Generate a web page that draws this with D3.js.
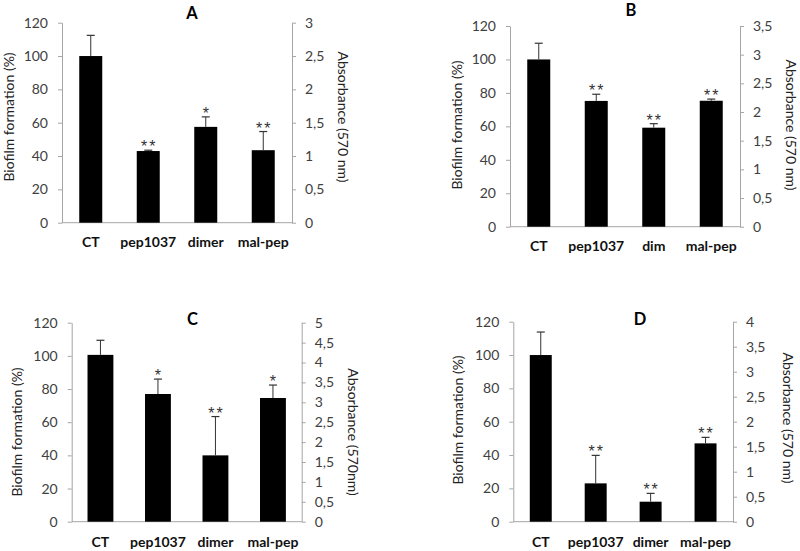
<!DOCTYPE html>
<html>
<head>
<meta charset="utf-8">
<script src="https://cdn.jsdelivr.net/npm/d3@7"></script>
<style>
  body { margin: 0; background: #fff; }
  svg { display: block; }
  text { font-family: Lato, "Liberation Sans", Arial, sans-serif; }
</style>
</head>
<body>
<svg id="chart" width="800" height="551"></svg>
<script>
// ---------- DATA ----------
const panelTitles = ["A", "B", "C", "D"];

const categoriesA = ["CT", "pep1037", "dimer", "mal-pep"];
const valuesA = [100, 43, 57.5, 43.5];
const errorsA = [12.4, 0.5, 6, 11.2];
const starsA = ["", "**", "*", "**"];
const rightMaxA = 3;

const categoriesB = ["CT", "pep1037", "dim", "mal-pep"];
const valuesB = [100, 75.2, 59.2, 75.3];
const errorsB = [9.7, 4, 2.4, 1];
const starsB = ["", "**", "**", "**"];
const rightMaxB = 3.5;

const categoriesC = ["CT", "pep1037", "dimer", "mal-pep"];
const valuesC = [100.6, 77, 40, 74.6];
const errorsC = [8.8, 9, 23.4, 7.8];
const starsC = ["", "*", "**", "*"];
const rightMaxC = 5;

const categoriesD = ["CT", "pep1037", "dimer", "mal-pep"];
const valuesD = [100, 23, 12, 47];
const errorsD = [13.8, 16.8, 5, 3.6];
const starsD = ["", "**", "**", "**"];
const rightMaxD = 4;

const leftTicks = [0, 20, 40, 60, 80, 100, 120];
const leftTitle = "Biofilm formation (%)";
const rightTitles = ["Absorbance (570 nm)", "Absorbance (570 nm)", "Absorbance (570nm)", "Absorbance (570 nm)"];

// ---------- LAYOUT ----------
const layouts = [
  { left: 62,  right: 292,   top: 22.7, bottom: 222.7, tx: 192, ty: 18.5, xl: 247,   lt: [9.5, 117],  rt: [343, 117],  bw: 0.4 },
  { left: 510, right: 740,   top: 26,   bottom: 226.7, tx: 631, ty: 16,   xl: 251,   lt: [457, 125],  rt: [791, 125],  bw: 0.4 },
  { left: 71.7,right: 301.7, top: 322.7,bottom: 521.7, tx: 192.5,ty: 325, xl: 546.5, lt: [16.7, 432], rt: [352.5, 432],bw: 0.45 },
  { left: 513.3,right: 733,  top: 321.7,bottom: 521.7, tx: 640, ty: 325,  xl: 546.5, lt: [458.3, 420],rt: [788, 418], bw: 0.4 }
];

const panels = [
  { cats: categoriesA, vals: valuesA, errs: errorsA, stars: starsA, rmax: rightMaxA },
  { cats: categoriesB, vals: valuesB, errs: errorsB, stars: starsB, rmax: rightMaxB },
  { cats: categoriesC, vals: valuesC, errs: errorsC, stars: starsC, rmax: rightMaxC },
  { cats: categoriesD, vals: valuesD, errs: errorsD, stars: starsD, rmax: rightMaxD }
];

const svg = d3.select("#chart");
const axisColor = "#a6a6a6";
const labelColor = "#404040";
const fontFam = 'Lato, "Liberation Sans", Arial, sans-serif';
const commaFmt = d => String(d).replace(".", ",");

panels.forEach((p, i) => {
  const L = layouts[i];
  const g = svg.append("g");

  const x = d3.scaleBand().domain(p.cats).range([L.left, L.right]).paddingInner(1 - L.bw).paddingOuter((1 - L.bw) / 2);
  const y = d3.scaleLinear().domain([0, 120]).range([L.bottom, L.top]);
  const yr = d3.scaleLinear().domain([0, p.rmax]).range([L.bottom, L.top]);
  const rTicks = d3.range(0, p.rmax + 0.001, 0.5).map(v => Math.round(v * 10) / 10);

  // left axis
  const la = g.append("g").attr("transform", `translate(${L.left},0)`)
    .call(d3.axisLeft(y).tickValues(leftTicks).tickSizeInner(4).tickSizeOuter(0).tickPadding(10));
  // right axis
  const ra = g.append("g").attr("transform", `translate(${L.right},0)`)
    .call(d3.axisRight(yr).tickValues(rTicks).tickFormat(commaFmt).tickSizeInner(4).tickSizeOuter(0).tickPadding(9));
  [la, ra].forEach(a => {
    a.selectAll("path, line").attr("stroke", axisColor);
    a.selectAll("text").attr("fill", labelColor).style("font-size", "14px").style("font-family", fontFam);
  });

  // baseline
  g.append("line").attr("x1", L.left).attr("x2", L.right)
    .attr("y1", y(0)).attr("y2", y(0)).attr("stroke", axisColor);

  // bars
  g.selectAll(".bar").data(p.vals).enter().append("rect")
    .attr("x", (d, j) => x(p.cats[j]))
    .attr("width", x.bandwidth())
    .attr("y", d => y(d))
    .attr("height", d => y(0) - y(d))
    .attr("fill", "#000");

  // error bars (upper only)
  p.vals.forEach((v, j) => {
    const cx = x(p.cats[j]) + x.bandwidth() / 2;
    const yTop = y(v + p.errs[j]);
    g.append("line").attr("x1", cx).attr("x2", cx).attr("y1", y(v)).attr("y2", yTop)
      .attr("stroke", "#333").attr("stroke-width", 1);
    g.append("line").attr("x1", cx - 4).attr("x2", cx + 4).attr("y1", yTop).attr("y2", yTop)
      .attr("stroke", "#333").attr("stroke-width", 1.2);
    if (p.stars[j]) {
      g.append("text").attr("x", cx + 1).attr("y", yTop + 2)
        .attr("text-anchor", "middle").attr("fill", "#333")
        .style("font-family", '"Liberation Sans", Arial, sans-serif')
        .style("font-size", "16px").style("letter-spacing", "2px")
        .text(p.stars[j]);
    }
  });

  // category labels
  g.selectAll(".cat").data(p.cats).enter().append("text")
    .attr("x", d => x(d) + x.bandwidth() / 2)
    .attr("y", L.xl)
    .attr("text-anchor", "middle")
    .style("font-weight", "bold").style("font-size", "14px").attr("fill", "#111")
    .text(d => d);

  // panel title
  g.append("text").attr("x", L.tx).attr("y", L.ty).attr("text-anchor", "middle")
    .style("font-weight", "bold").style("font-size", "16.5px").text(panelTitles[i]);

  // axis titles
  g.append("text").attr("transform", `translate(${L.lt[0]},${L.lt[1]}) rotate(-90)`)
    .attr("text-anchor", "middle").attr("dy", "0.35em")
    .style("font-size", "14px").attr("fill", "#222").text(leftTitle);
  g.append("text").attr("transform", `translate(${L.rt[0]},${L.rt[1]}) rotate(90)`)
    .attr("text-anchor", "middle").attr("dy", "0.35em")
    .style("font-size", "14px").attr("fill", "#222").text(rightTitles[i]);
});
</script>
</body>
</html>
